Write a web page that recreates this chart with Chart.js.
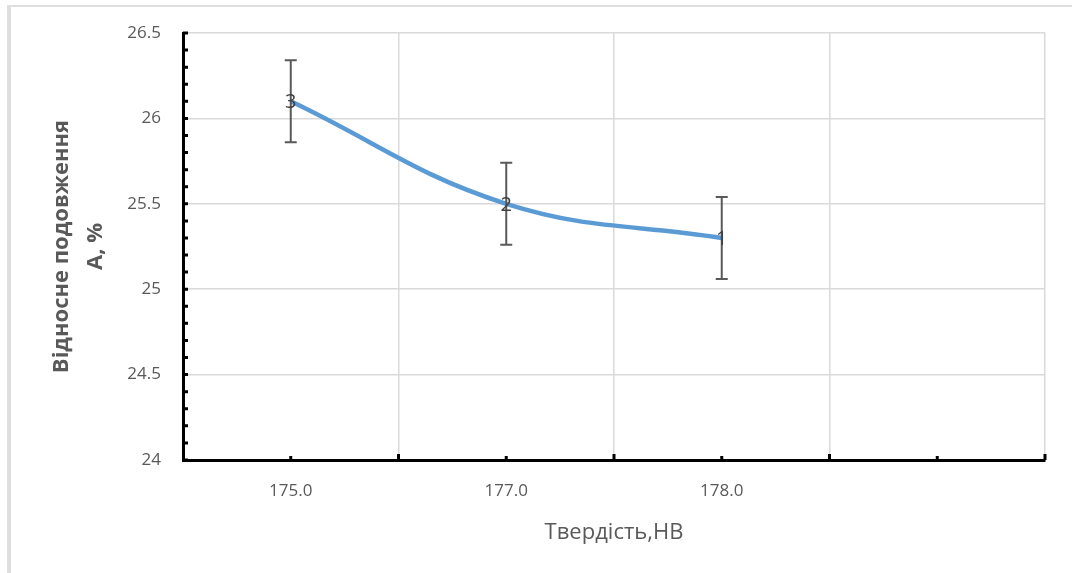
<!DOCTYPE html>
<html>
<head>
<meta charset="utf-8">
<script src="https://cdn.jsdelivr.net/npm/chart.js@4.4.1/dist/chart.umd.min.js"></script>
<style>
    html, body { margin: 0; padding: 0; background: #fff; }
    #wrap { position: relative; width: 1072px; height: 573px; overflow: hidden; }
    #frame {
        position: absolute; left: 7px; top: 5px; width: 1100px; height: 600px;
        border-left: 4px solid #dedede; border-top: 2px solid #dedede;
    }
    #chart { position: absolute; left: 0; top: 0; }
</style>
</head>
<body>
<div id="wrap">
    <div id="frame"></div>
    <canvas id="chart" width="1072" height="573"></canvas>
</div>
<script>
// categories on the x axis (the last slot is empty in the original)
const hardness   = ['175.0', '177.0', '178.0', ''];
// relative elongation, %
const elongation = [26.1, 25.5, 25.3];
// error bar half-width, %
const errors     = [0.24, 0.24, 0.24];
// sample numbers shown on the points
const sampleIds  = ['3', '2', '1'];
// y axis labels, bottom to top
const yTickLabels = ['24', '24.5', '25', '25.5', '26', '26.5'];

const FONT = '"Open Sans", "Liberation Sans", sans-serif';
const GREY_TEXT = '#595959';

// inner tick marks, error bars and point labels
const extrasPlugin = {
    id: 'extras',
    afterDatasetsDraw(chart) {
        const ctx = chart.ctx;
        const x = chart.scales.x, y = chart.scales.y;
        const area = chart.chartArea;

        // error bars
        ctx.save();
        ctx.strokeStyle = '#595959';
        ctx.lineWidth = 2;
        elongation.forEach((v, i) => {
            const px = x.getPixelForValue(i);
            const top = y.getPixelForValue(v + errors[i]);
            const bot = y.getPixelForValue(v - errors[i]);
            ctx.beginPath();
            ctx.moveTo(px, top); ctx.lineTo(px, bot);
            ctx.moveTo(px - 6, top); ctx.lineTo(px + 6, top);
            ctx.moveTo(px - 6, bot); ctx.lineTo(px + 6, bot);
            ctx.stroke();
        });
        ctx.restore();

        // point labels
        ctx.save();
        ctx.font = '20px ' + FONT;
        ctx.fillStyle = '#404040';
        ctx.textAlign = 'center';
        ctx.textBaseline = 'middle';
        elongation.forEach((v, i) => {
            ctx.fillText(sampleIds[i], x.getPixelForValue(i), y.getPixelForValue(v) + 1);
        });
        ctx.restore();

        // axis tick marks (pointing inwards)
        ctx.save();
        ctx.strokeStyle = '#000';
        ctx.lineWidth = 3;
        ctx.beginPath();
        for (let v = 240; v <= 265; v++) {
            const py = y.getPixelForValue(v / 10);
            ctx.moveTo(area.left, py); ctx.lineTo(area.left + 5, py);
        }
        const half = (x.getPixelForValue(1) - x.getPixelForValue(0)) / 2;
        hardness.forEach((c, i) => {
            const px = x.getPixelForValue(i);
            ctx.moveTo(px, area.bottom); ctx.lineTo(px, area.bottom - 4);
            ctx.moveTo(px + half, area.bottom); ctx.lineTo(px + half, area.bottom - 6);
        });
        ctx.stroke();
        ctx.restore();
    }
};

new Chart(document.getElementById('chart').getContext('2d'), {
    type: 'line',
    data: {
        labels: hardness,
        datasets: [{
            data: elongation,
            borderColor: '#5B9BD5',
            borderWidth: 4.5,
            tension: 0.4,
            pointRadius: 0,
            fill: false
        }]
    },
    options: {
        responsive: false,
        animation: false,
        layout: { padding: { left: 0, top: 33, right: 27, bottom: 27 } },
        plugins: {
            legend: { display: false },
            tooltip: { enabled: false }
        },
        scales: {
            x: {
                offset: true,
                afterFit: s => { s.height = 86; },
                grid: { offset: true, color: '#d9d9d9', lineWidth: 1.5, drawTicks: false },
                border: { color: '#000', width: 3 },
                ticks: { color: GREY_TEXT, font: { family: FONT, size: 17 }, padding: 21, maxRotation: 0 },
                title: {
                    display: true,
                    text: 'Твердість,НВ',
                    color: GREY_TEXT,
                    font: { family: FONT, size: 22 },
                    padding: { top: 0, bottom: 0 }
                }
            },
            y: {
                min: 24,
                max: 26.5,
                afterFit: s => { s.width = 183; },
                grid: { color: '#d9d9d9', lineWidth: 1.5, drawTicks: false },
                border: { color: '#000', width: 3 },
                ticks: {
                    stepSize: 0.5,
                    color: GREY_TEXT,
                    font: { family: FONT, size: 17 },
                    padding: 22,
                    callback: (v, i) => yTickLabels[i]
                },
                title: {
                    display: true,
                    text: ['Відносне подовження', 'А, %'],
                    color: GREY_TEXT,
                    font: { family: FONT, size: 22, weight: 'bold', lineHeight: 1.55 },
                    padding: { top: 45, bottom: 0 }
                }
            }
        }
    },
    plugins: [extrasPlugin]
});
</script>
</body>
</html>
